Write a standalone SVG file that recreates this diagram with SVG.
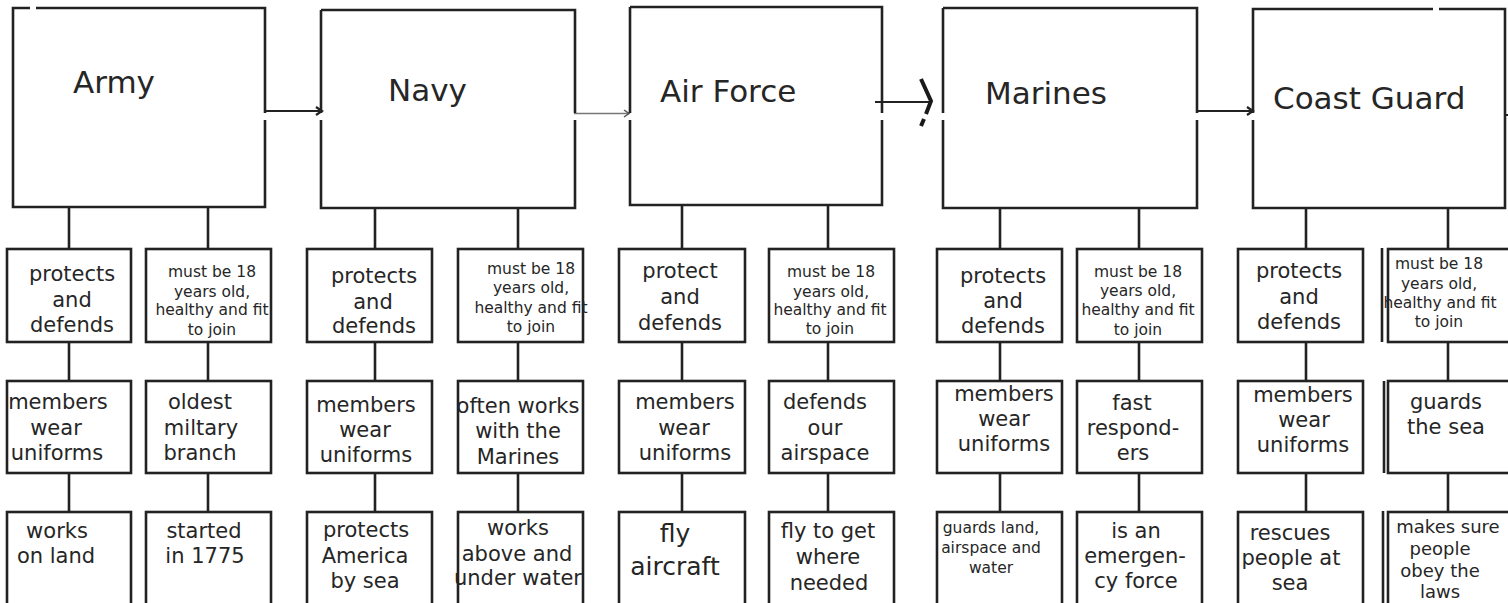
<svg xmlns="http://www.w3.org/2000/svg" width="1508" height="603" viewBox="0 0 1508 603">
<style>
.bx{fill:none;stroke:#222;stroke-width:2.6;stroke-linejoin:miter}
.sb{fill:#fff;stroke:#222;stroke-width:2.6}
.ln{fill:none;stroke:#222;stroke-width:2.6}
.ar{fill:none;stroke:#222;stroke-width:2.2}
.t{font-family:"DejaVu Sans","Liberation Sans",sans-serif;fill:#262626;text-anchor:middle}
.h{font-size:31px;text-anchor:start}
.m{font-size:21px}
.s{font-size:15.5px}
</style>
<rect width="1508" height="603" fill="#fff"/>

<g id="connectors">
  <!-- horizontal arrows -->
  <path class="ar" d="M265 111 H322 M316 107 L322 111 L316 115"/>
  <path d="M574 113.5 H629" fill="none" stroke="#777" stroke-width="1.5"/>
  <path d="M624 110 L629 113.5 L624 117" fill="none" stroke="#555" stroke-width="1.5"/>
  <path class="ar" d="M875 102 H930"/>
  <path d="M921 79 L931 101 L926 114 M924 119 L921 126" fill="none" stroke="#1a1a1a" stroke-width="4"/>
  <path class="ar" d="M1197 111 H1253 M1247 107 L1253 111 L1247 115"/>
  <path d="M1505 115 H1508" fill="none" stroke="#222" stroke-width="2"/>
  <!-- vertical connectors -->
  <path class="ln" d="M69 207 V249 M69 342 V381 M69 473 V512 M208 207 V249 M208 342 V381 M208 473 V512"/>
  <path class="ln" d="M375 208 V249 M375 342 V381 M375 473 V512 M518 208 V249 M518 342 V381 M518 473 V512"/>
  <path class="ln" d="M682 205 V249 M682 342 V381 M682 473 V512 M828 205 V249 M828 342 V381 M828 473 V512"/>
  <path class="ln" d="M1000 208 V249 M1000 342 V381 M1000 473 V512 M1139 208 V249 M1139 342 V381 M1139 473 V512"/>
  <path class="ln" d="M1306 208 V249 M1306 342 V381 M1306 473 V512 M1448 208 V249 M1448 342 V381 M1448 473 V512"/>
</g>

<g id="army">
  <path class="bx" d="M36 8 H265 V113 M265 120 V207 H13 V8 H30"/>
  <text class="t h" x="73" y="93">Army</text>
</g>
<g id="navy">
  <path class="bx" d="M321 10 H575 V113 M575 120 V208 H321 V120 M321 113 V10"/>
  <text class="t h" x="388" y="101">Navy</text>
</g>
<g id="airforce">
  <path class="bx" d="M630 7 H882 V113 M882 120 V205 H630 V120 M630 113 V7"/>
  <text class="t h" x="660" y="102">Air Force</text>
</g>
<g id="marines">
  <path class="bx" d="M943 8 H1197 V113 M1197 120 V208 H943 V120 M943 113 V8"/>
  <text class="t h" x="985" y="104">Marines</text>
</g>
<g id="coastguard">
  <path class="bx" d="M1439 9 H1505 V208 H1253 V120 M1253 113 V9 H1433"/>
  <text class="t h" x="1273" y="109">Coast Guard</text>
</g>

<!-- Army column -->
<g id="army-1">
  <rect class="sb" x="7" y="249" width="124" height="93"/>
  <text class="t m"><tspan x="72" y="281">protects</tspan><tspan x="72" y="307">and</tspan><tspan x="72" y="332">defends</tspan></text>
</g>
<g id="army-2">
  <rect class="sb" x="146" y="249" width="125" height="93"/>
  <text class="t s"><tspan x="212" y="277">must be 18</tspan><tspan x="212" y="297">years old,</tspan><tspan x="212" y="315">healthy and fit</tspan><tspan x="212" y="335">to join</tspan></text>
</g>
<g id="army-3">
  <rect class="sb" x="7" y="381" width="124" height="92"/>
  <text class="t m"><tspan x="58" y="409">members</tspan><tspan x="56" y="435">wear</tspan><tspan x="57" y="460">uniforms</tspan></text>
</g>
<g id="army-4">
  <rect class="sb" x="146" y="381" width="125" height="92"/>
  <text class="t m"><tspan x="200" y="409">oldest</tspan><tspan x="201" y="435">miltary</tspan><tspan x="200" y="460">branch</tspan></text>
</g>
<g id="army-5">
  <rect class="sb" x="7" y="512" width="124" height="110"/>
  <text class="t m"><tspan x="57" y="538">works</tspan><tspan x="56" y="563">on land</tspan></text>
</g>
<g id="army-6">
  <rect class="sb" x="146" y="512" width="125" height="110"/>
  <text class="t m"><tspan x="204" y="538">started</tspan><tspan x="205" y="563">in 1775</tspan></text>
</g>

<!-- Navy column -->
<g id="navy-1">
  <rect class="sb" x="307" y="249" width="125" height="93"/>
  <text class="t m"><tspan x="374" y="283">protects</tspan><tspan x="373" y="309">and</tspan><tspan x="374" y="333">defends</tspan></text>
</g>
<g id="navy-2">
  <rect class="sb" x="458" y="249" width="125" height="93"/>
  <text class="t s"><tspan x="531" y="274">must be 18</tspan><tspan x="531" y="293">years old,</tspan><tspan x="531" y="313">healthy and fit</tspan><tspan x="531" y="332">to join</tspan></text>
</g>
<g id="navy-3">
  <rect class="sb" x="307" y="381" width="125" height="92"/>
  <text class="t m"><tspan x="366" y="412">members</tspan><tspan x="365" y="437">wear</tspan><tspan x="366" y="462">uniforms</tspan></text>
</g>
<g id="navy-4">
  <rect class="sb" x="458" y="381" width="125" height="92"/>
  <text class="t m"><tspan x="518" y="413">often works</tspan><tspan x="518" y="438">with the</tspan><tspan x="518" y="464">Marines</tspan></text>
</g>
<g id="navy-5">
  <rect class="sb" x="307" y="512" width="125" height="110"/>
  <text class="t m"><tspan x="366" y="537">protects</tspan><tspan x="365" y="563">America</tspan><tspan x="365" y="588">by sea</tspan></text>
</g>
<g id="navy-6">
  <rect class="sb" x="458" y="512" width="125" height="110"/>
  <text class="t m"><tspan x="518" y="535">works</tspan><tspan x="517" y="561">above and</tspan><tspan x="518" y="585">under water</tspan></text>
</g>

<!-- Air Force column -->
<g id="airforce-1">
  <rect class="sb" x="619" y="249" width="126" height="93"/>
  <text class="t m"><tspan x="680" y="278">protect</tspan><tspan x="680" y="304">and</tspan><tspan x="680" y="330">defends</tspan></text>
</g>
<g id="airforce-2">
  <rect class="sb" x="769" y="249" width="125" height="93"/>
  <text class="t s"><tspan x="831" y="277">must be 18</tspan><tspan x="831" y="297">years old,</tspan><tspan x="830" y="315">healthy and fit</tspan><tspan x="830" y="334">to join</tspan></text>
</g>
<g id="airforce-3">
  <rect class="sb" x="619" y="381" width="126" height="92"/>
  <text class="t m"><tspan x="685" y="409">members</tspan><tspan x="684" y="435">wear</tspan><tspan x="685" y="460">uniforms</tspan></text>
</g>
<g id="airforce-4">
  <rect class="sb" x="769" y="381" width="125" height="92"/>
  <text class="t m"><tspan x="825" y="409">defends</tspan><tspan x="825" y="435">our</tspan><tspan x="825" y="460">airspace</tspan></text>
</g>
<g id="airforce-5">
  <rect class="sb" x="619" y="512" width="126" height="110"/>
  <text class="t" style="font-size:25px"><tspan x="675" y="542">fly</tspan><tspan x="675" y="575">aircraft</tspan></text>
</g>
<g id="airforce-6">
  <rect class="sb" x="769" y="512" width="125" height="110"/>
  <text class="t m"><tspan x="828" y="538">fly to get</tspan><tspan x="828" y="564">where</tspan><tspan x="829" y="590">needed</tspan></text>
</g>

<!-- Marines column -->
<g id="marines-1">
  <rect class="sb" x="937" y="249" width="125" height="93"/>
  <text class="t m"><tspan x="1003" y="283">protects</tspan><tspan x="1003" y="308">and</tspan><tspan x="1003" y="333">defends</tspan></text>
</g>
<g id="marines-2">
  <rect class="sb" x="1077" y="249" width="125" height="93"/>
  <text class="t s"><tspan x="1138" y="277">must be 18</tspan><tspan x="1138" y="296">years old,</tspan><tspan x="1138" y="315">healthy and fit</tspan><tspan x="1138" y="335">to join</tspan></text>
</g>
<g id="marines-3">
  <rect class="sb" x="937" y="381" width="125" height="92"/>
  <text class="t m"><tspan x="1004" y="401">members</tspan><tspan x="1004" y="426">wear</tspan><tspan x="1004" y="451">uniforms</tspan></text>
</g>
<g id="marines-4">
  <rect class="sb" x="1077" y="381" width="125" height="92"/>
  <text class="t m"><tspan x="1132" y="410">fast</tspan><tspan x="1133" y="435">respond-</tspan><tspan x="1133" y="460">ers</tspan></text>
</g>
<g id="marines-5">
  <rect class="sb" x="937" y="512" width="125" height="110"/>
  <text class="t" style="font-size:15.5px"><tspan x="991" y="533">guards land,</tspan><tspan x="991" y="553">airspace and</tspan><tspan x="991" y="573">water</tspan></text>
</g>
<g id="marines-6">
  <rect class="sb" x="1077" y="512" width="125" height="110"/>
  <text class="t m"><tspan x="1136" y="538">is an</tspan><tspan x="1135" y="563">emergen-</tspan><tspan x="1136" y="588">cy force</tspan></text>
</g>

<!-- Coast Guard column -->
<g id="coastguard-1">
  <rect class="sb" x="1238" y="249" width="125" height="93"/>
  <text class="t m"><tspan x="1299" y="278">protects</tspan><tspan x="1299" y="304">and</tspan><tspan x="1299" y="329">defends</tspan></text>
</g>
<g id="coastguard-2">
  <rect class="sb" x="1388" y="249" width="135" height="93"/>
  <text class="t s"><tspan x="1439" y="269">must be 18</tspan><tspan x="1439" y="289">years old,</tspan><tspan x="1440" y="308">healthy and fit</tspan><tspan x="1439" y="327">to join</tspan></text>
  <path class="ln" d="M1382 248 V342"/>
</g>
<g id="coastguard-3">
  <rect class="sb" x="1238" y="381" width="125" height="92"/>
  <text class="t m"><tspan x="1303" y="402">members</tspan><tspan x="1304" y="427">wear</tspan><tspan x="1303" y="452">uniforms</tspan></text>
</g>
<g id="coastguard-4">
  <rect class="sb" x="1388" y="381" width="135" height="92"/>
  <text class="t m"><tspan x="1446" y="409">guards</tspan><tspan x="1446" y="434">the sea</tspan></text>
  <path class="ln" d="M1384 381 V473"/>
</g>
<g id="coastguard-5">
  <rect class="sb" x="1238" y="512" width="125" height="110"/>
  <text class="t m"><tspan x="1290" y="540">rescues</tspan><tspan x="1291" y="565">people at</tspan><tspan x="1290" y="590">sea</tspan></text>
</g>
<g id="coastguard-6">
  <rect class="sb" x="1388" y="512" width="135" height="110"/>
  <text class="t" style="font-size:18px"><tspan x="1448" y="533">makes sure</tspan><tspan x="1440" y="555">people</tspan><tspan x="1440" y="577">obey the</tspan><tspan x="1440" y="598">laws</tspan></text>
  <path class="ln" d="M1383 511 V603"/>
</g>
</svg>
